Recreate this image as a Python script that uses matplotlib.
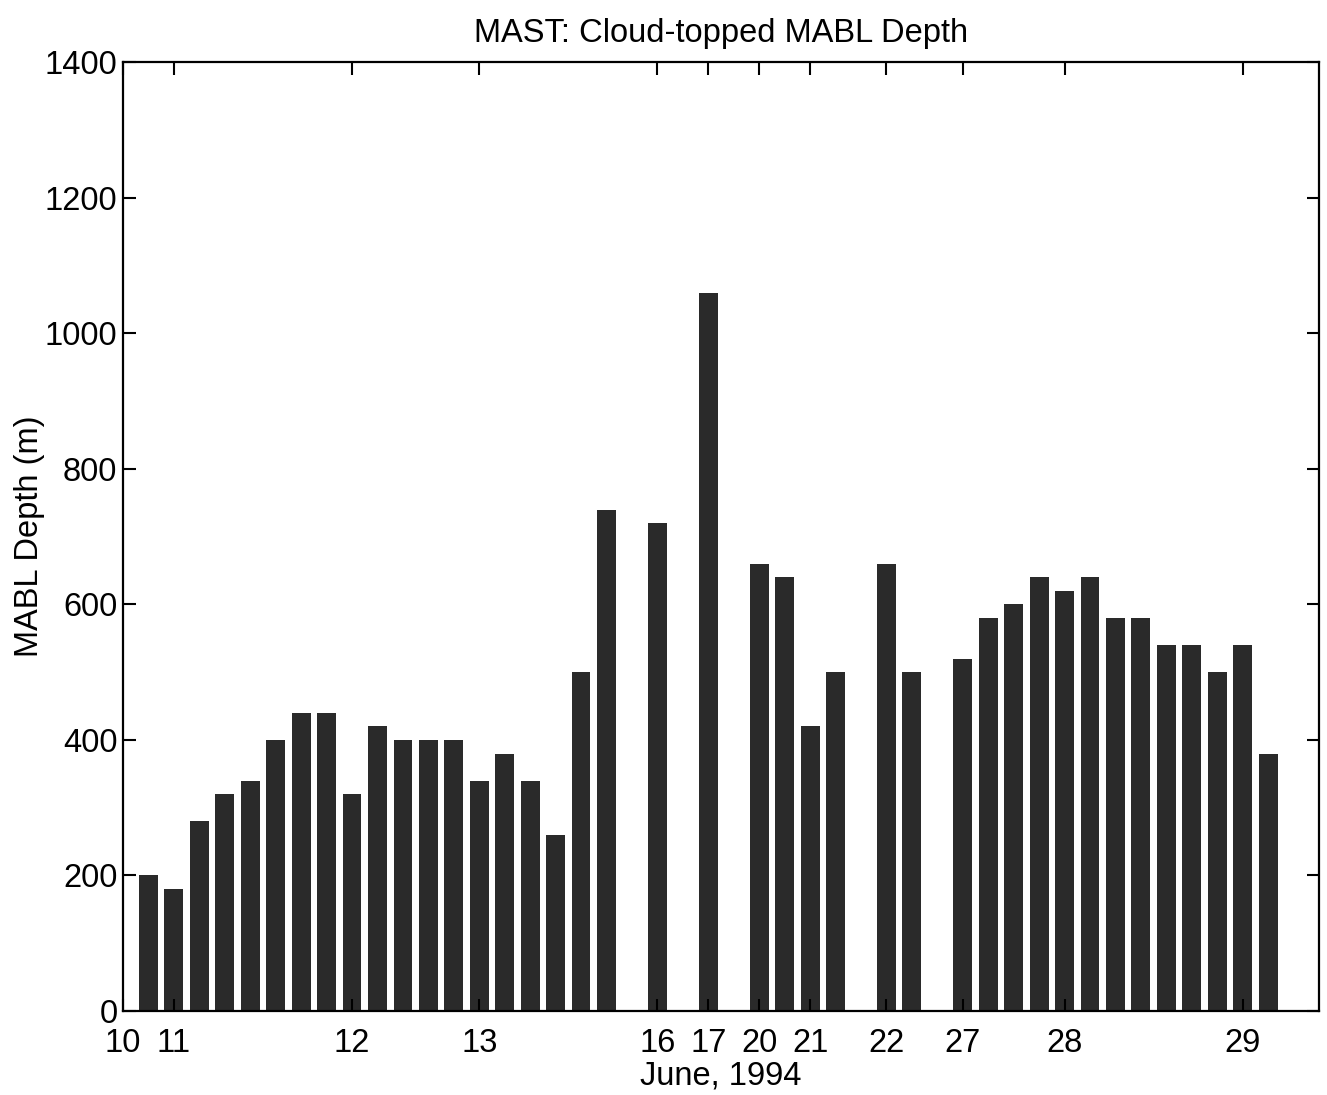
import matplotlib

matplotlib.use("Agg")

import matplotlib.pyplot as plt

plt.rcParams["font.family"] = ["Liberation Sans", "DejaVu Sans"]

# sounding slots (one per profile), gaps are slots with no cloud-topped MABL
slots = [1, 2, 3, 4, 5, 6, 7, 8, 9, 10, 11, 12, 13, 14, 15, 16, 17, 18, 19,
         21, 23, 25, 26, 27, 28, 30, 31,
         33, 34, 35, 36, 37, 38, 39, 40, 41, 42, 43, 44, 45]
depth_m = [200, 180, 280, 320, 340, 400, 440, 440, 320, 420, 400, 400, 400,
           340, 380, 340, 260, 500, 740,
           720, 1060, 660, 640, 420, 500, 660, 500,
           520, 580, 600, 640, 620, 640, 580, 580, 540, 540, 500, 540, 380]

day_ticks = [0, 2, 9, 14, 21, 23, 25, 27, 30, 33, 37, 44]
day_labels = ["10", "11", "12", "13", "16", "17", "20", "21", "22", "27", "28", "29"]

fig = plt.figure(figsize=(13.27, 10.95), dpi=100)
ax = fig.add_axes([0.0927, 0.0767, 0.9013, 0.8663])

ax.bar(slots, depth_m, width=0.74, color="#2a2a2a", edgecolor="none")

ax.set_xlim(0, 47)
ax.set_ylim(0, 1400)
ax.set_xticks(day_ticks)
ax.set_xticklabels(day_labels)
ax.set_yticks(range(0, 1401, 200))

ax.tick_params(axis="both", direction="in", length=9, width=1.5,
               labelsize=23.5, top=True, right=True)
ax.tick_params(axis="x", pad=12)
ax.tick_params(axis="y", pad=4)
for spine in ax.spines.values():
    spine.set_linewidth(1.6)
    spine.set_color("black")

ax.set_title("MAST: Cloud-topped MABL Depth", fontsize=23.5, pad=15)
ax.set_xlabel("June, 1994", fontsize=23.5, labelpad=1)
ax.set_ylabel("MABL Depth (m)", fontsize=23.5, labelpad=0)

fig.savefig("out.png", dpi=100)
